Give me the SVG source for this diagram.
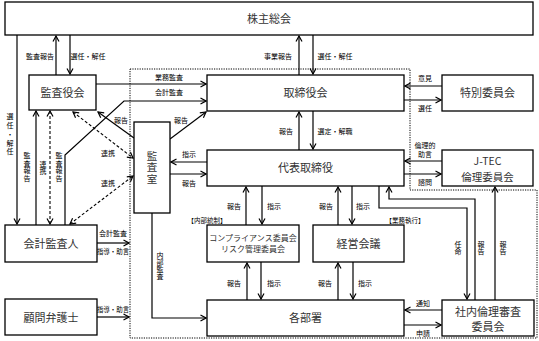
<svg xmlns="http://www.w3.org/2000/svg" width="539" height="341" viewBox="0 0 539 341">
<style>
.box{fill:#fff;stroke:#000;stroke-width:1.3}
.nt{font-family:"Noto Sans CJK JP","Noto Sans",sans-serif;font-size:11px;fill:#333;text-anchor:middle}
.st{font-family:"Noto Sans CJK JP","Noto Sans",sans-serif;font-size:8px;fill:#333;text-anchor:middle}
.lb{font-family:"Noto Sans CJK JP","Noto Sans",sans-serif;font-size:7px;fill:#000;text-anchor:middle}
.vt{writing-mode:vertical-rl;text-anchor:middle}
.c{fill:none;stroke:#000;stroke-width:1.2}
.ca{fill:none;stroke:#000;stroke-width:1.2;marker-end:url(#a)}
.cd{fill:none;stroke:#000;stroke-width:1.1;stroke-dasharray:3 2;marker-end:url(#a);marker-start:url(#a)}
.dot{fill:none;stroke:#000;stroke-width:1;stroke-dasharray:1.2 1.2}
</style>
<defs>
<marker id="a" viewBox="0 0 8 8" refX="7" refY="4" markerWidth="8" markerHeight="8" markerUnits="userSpaceOnUse" orient="auto-start-reverse">
<path d="M1.5,1 L7,4 L1.5,7" fill="none" stroke="#000" stroke-width="1.2" stroke-dasharray="none"/>
</marker>
</defs>
<rect width="539" height="341" fill="#fff"/>
<path class="dot" d="M130,69 H410 V190 H537 V338 H130 Z"/>

<g id="connectors">
<path class="ca" d="M56,75 V36"/>
<path class="ca" d="M70,35 V74"/>
<path class="ca" d="M17,35 V224"/>
<path class="ca" d="M299,75 V36"/>
<path class="ca" d="M313,35 V74"/>
<path class="ca" d="M96,84 H206"/>
<path class="ca" d="M65,225 V155 L124,101 H206"/>
<path class="ca" d="M36,225 V111"/>
<path class="cd" d="M50,224 V111"/>
<path class="ca" d="M134,138 L98,112"/>
<path class="cd" d="M73,112 L133,158"/>
<path class="cd" d="M70,224 L133,176"/>
<path class="ca" d="M170,139 L206,112"/>
<path class="ca" d="M207,162 H171"/>
<path class="ca" d="M170,174 H206"/>
<path class="ca" d="M299,150 V112"/>
<path class="ca" d="M313,111 V149"/>
<path class="ca" d="M442,86 H405"/>
<path class="ca" d="M404,100 H441"/>
<path class="ca" d="M442,161 H405"/>
<path class="ca" d="M404,174 H441"/>
<path class="ca" d="M246,225 V187"/>
<path class="ca" d="M262,186 V224"/>
<path class="ca" d="M338,225 V187"/>
<path class="ca" d="M352,186 V224"/>
<path class="ca" d="M247,300 V263"/>
<path class="ca" d="M261,262 V299"/>
<path class="ca" d="M338,300 V263"/>
<path class="ca" d="M353,262 V299"/>
<path class="ca" d="M379,186 V208 H467 V299"/>
<path class="ca" d="M475,300 V199 H389 V187"/>
<path class="ca" d="M495,300 V187"/>
<path class="ca" d="M442,310 H405"/>
<path class="ca" d="M404,325 H441"/>
<path class="ca" d="M152,213 V318 H206"/>
<path class="ca" d="M97,243 H129"/>
<path class="ca" d="M97,317 H129"/>
</g>

<g id="labels">
<text class="lb" x="40" y="58.5">監査報告</text>
<text class="lb" x="88" y="58.5">選任・解任</text>
<text class="lb" x="278" y="59">事業報告</text>
<text class="lb" x="335" y="58.5">選任・解任</text>
<text class="lb" x="169" y="79.5">業務監査</text>
<text class="lb" x="169" y="94.5">会計監査</text>
<text class="lb" x="181" y="122.5">報告</text>
<text class="lb" x="121" y="122.5">報告</text>
<text class="lb" x="108" y="155.5">連携</text>
<text class="lb" x="108" y="185.5">連携</text>
<text class="lb" x="189" y="156.5">指示</text>
<text class="lb" x="189" y="185.5">報告</text>
<text class="lb" x="286" y="133.5">報告</text>
<text class="lb" x="335" y="133.5">選定・解職</text>
<text class="lb" x="425" y="80.5">意見</text>
<text class="lb" x="425" y="110.5">選任</text>
<text class="lb" x="425" y="147.5">倫理的</text>
<text class="lb" x="425" y="156.5">助言</text>
<text class="lb" x="425" y="184.5">諮問</text>
<text class="lb" x="234" y="208.5">報告</text>
<text class="lb" x="274" y="208.5">指示</text>
<text class="lb" x="326" y="208.5">報告</text>
<text class="lb" x="363" y="208.5">指示</text>
<text class="lb" x="207" y="222.5" style="font-size:6.5px">【内部統制】</text>
<text class="lb" x="405" y="222.5" style="font-size:6.5px">【業務執行】</text>
<text class="lb" x="234" y="285.5">報告</text>
<text class="lb" x="274" y="285.5">指示</text>
<text class="lb" x="325" y="285.5">報告</text>
<text class="lb" x="365" y="285.5">指示</text>
<text class="lb" x="423" y="305.5">通知</text>
<text class="lb" x="423" y="335.5">申請</text>
<text class="lb" x="113" y="235.5">会計監査</text>
<text class="lb" x="113" y="253.5" style="font-size:6.5px">指導・助言</text>
<text class="lb" x="113" y="311.5" style="font-size:6.5px">指導・助言</text>
<text class="lb vt" x="10" y="135" style="letter-spacing:1.8px">選任・解任</text>
<text class="lb vt" x="27" y="167" style="letter-spacing:0.5px">監査報告</text>
<text class="lb vt" x="43" y="168" style="letter-spacing:0.5px">連携</text>
<text class="lb vt" x="59" y="167" style="letter-spacing:0.5px">監査報告</text>
<text class="lb vt" x="160" y="266">内部監査</text>
<text class="lb vt" x="458" y="248" style="letter-spacing:0.5px">任命</text>
<text class="lb vt" x="481" y="248" style="letter-spacing:0.5px">報告</text>
<text class="lb vt" x="503" y="248" style="letter-spacing:0.5px">報告</text>
</g>

<g id="n-kabunushi"><rect class="box" x="5" y="2" width="528" height="33"/><text class="nt" x="269" y="23">株主総会</text></g>
<g id="n-kansayakukai"><rect class="box" x="29" y="75" width="67" height="35"/><text class="nt" x="62.5" y="97">監査役会</text></g>
<g id="n-torishimariyakukai"><rect class="box" x="207" y="75" width="197" height="36"/><text class="nt" x="305.5" y="97">取締役会</text></g>
<g id="n-tokubetsu"><rect class="box" x="442" y="75" width="91" height="36"/><text class="nt" x="487.5" y="97">特別委員会</text></g>
<g id="n-daihyo"><rect class="box" x="207" y="150" width="197" height="36"/><text class="nt" x="305.5" y="172">代表取締役</text></g>
<g id="n-jtec"><rect class="box" x="442" y="150" width="91" height="36"/><text class="nt" x="487.5" y="165" style="font-size:10.5px">J-TEC</text><text class="nt" x="487.5" y="180.5" style="font-size:10.5px">倫理委員会</text></g>
<g id="n-kansashitsu"><rect class="box" x="134" y="122" width="36" height="91"/><text class="nt vt" x="152" y="168" style="font-size:10.5px;letter-spacing:1px">監査室</text></g>
<g id="n-kaikei"><rect class="box" x="5" y="225" width="92" height="37"/><text class="nt" x="51" y="248">会計監査人</text></g>
<g id="n-komon"><rect class="box" x="5" y="299" width="92" height="36"/><text class="nt" x="51" y="322">顧問弁護士</text></g>
<g id="n-compliance"><rect class="box" x="207" y="225" width="92" height="37"/><text class="st" x="253" y="241">コンプライアンス委員会</text><text class="st" x="253" y="252">リスク管理委員会</text></g>
<g id="n-keiei"><rect class="box" x="313" y="225" width="91" height="37"/><text class="nt" x="358.5" y="248">経営会議</text></g>
<g id="n-kakubusho"><rect class="box" x="207" y="300" width="197" height="36"/><text class="nt" x="305.5" y="322">各部署</text></g>
<g id="n-shanai"><rect class="box" x="442" y="300" width="92" height="36"/><text class="nt" x="488" y="316">社内倫理審査</text><text class="nt" x="488" y="331">委員会</text></g>
</svg>
